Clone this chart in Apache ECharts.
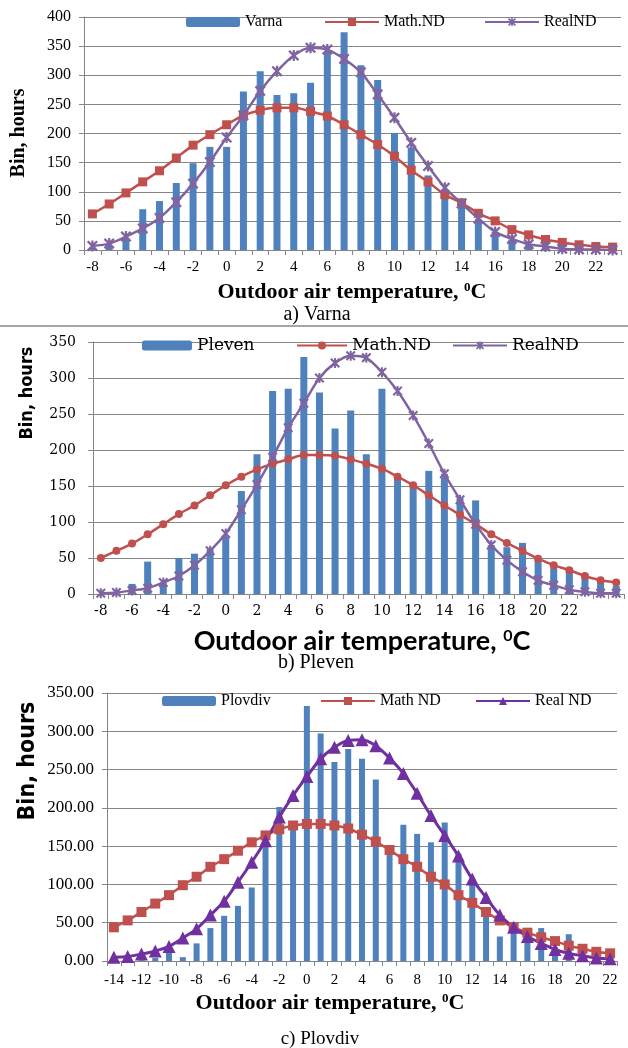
<!DOCTYPE html>
<html><head><meta charset="utf-8">
<script src="https://cdn.jsdelivr.net/npm/echarts@6/dist/echarts.min.js"></script>
<style>html,body{margin:0;padding:0;background:#fff}#c{width:628px;height:1048px}</style>
</head><body><div id="c"></div><script>
// ---------- Data ----------
var varnaTemps = [-8,-7,-6,-5,-4,-3,-2,-1,0,1,2,3,4,5,6,7,8,9,10,11,12,13,14,15,16,17,18,19,20,21,22,23];
var varnaBin   = [4,8,20,70,84,115,149,177,177,272,307,266,269,287,340,374,317,292,201,176,128,95,78,53,31,18,10,6,3,2,1,1];
var varnaMath  = [62,79,98,117,136,158,180,198,215,231,240,244,244,238,230,215,198,181,161,137,117,95,81,63,50,35,26,18,13,9,6,5];
var varnaReal  = [7,11,23,37,55,82,114,151,193,231,273,307,334,347,344,328,305,267,227,184,144,107,80,54,31,19,10,6,2,1,1,0];

var plevenTemps = [-8,-7,-6,-5,-4,-3,-2,-1,0,1,2,3,4,5,6,7,8,9,10,11,12,13,14,15,16,17,18,19,20,21,22,23,24,25];
var plevenBin   = [0,1,14,45,16,50,56,62,80,143,194,282,285,329,280,230,255,194,285,160,149,171,167,133,130,68,65,71,47,36,31,25,18,11];
var plevenMath  = [50,60,70,83,97,111,123,137,151,163,173,181,187,193,193,192,187,181,174,163,151,137,123,110,97,83,71,60,49,40,33,25,19,16];
var plevenReal  = [1,2,5,8,16,25,40,60,84,117,152,190,231,265,300,321,331,328,308,282,248,209,167,131,97,68,47,31,19,12,6,3,1,1];

var plovdivTemps = [-14,-13,-12,-11,-10,-9,-8,-7,-6,-5,-4,-3,-2,-1,0,1,2,3,4,5,6,7,8,9,10,11,12,13,14,15,16,17,18,19,20,21,22];
var plovdivBin   = [0,0,1,4,12,5,23,43,59,72,96,150,201,180,333,297,260,277,264,237,148,178,166,155,181,140,101,62,32,40,31,43,18,35,12,7,3];
var plovdivMath  = [44,53,64,75,86,99,110,123,133,144,155,164,172,177,179,179,177,173,165,156,145,133,123,110,100,86,76,64,53,44,37,31,26,20,16,12,10];
var plovdivReal  = [5,6,9,13,19,30,42,60,78,103,129,157,188,216,241,264,279,288,289,281,265,245,219,190,164,137,107,83,60,44,32,23,15,10,7,4,3];

var yTicksVarna = {min:0, max:400, interval:50};
var yTicksPleven = {min:0, max:350, interval:50};
var yTicksPlovdiv = {min:0, max:350, interval:50};

// ---------- Styles ----------
var BLUE='#4F81BD', RED='#C0504D', PURPLE='#8064A2', PURPLE2='#7030A0', GRID='#868686';
var SERIF='"Liberation Serif","Times New Roman",serif';
var DSERIF='"DejaVu Serif",serif';
var NARROW='"Liberation Sans Narrow","DejaVu Sans Condensed","DejaVu Sans",sans-serif';
var STAR='path://M1.5,0L5,3.5L8.5,0L10,1.5L6.5,5L10,8.5L8.5,10L5,6.5L1.5,10L0,8.5L3.5,5L0,1.5ZM4,0L6,0L6,10L4,10Z';

function xAx(gi, data, font, size, margin, fmt){
  return {type:'category', gridIndex:gi, data:data, boundaryGap:true,
    axisLine:{lineStyle:{color:GRID,width:1}},
    axisTick:{show:true, interval:0, length:5, lineStyle:{color:GRID}},
    axisLabel:{interval:1, color:'#000', fontFamily:font, fontSize:size, margin:margin, formatter:fmt},
    splitLine:{show:false}};
}
function yAx(gi, t, font, size, margin, fmt){
  return {type:'value', gridIndex:gi, min:t.min, max:t.max, interval:t.interval,
    axisLine:{show:true, lineStyle:{color:GRID,width:1}},
    axisTick:{show:true, length:5, lineStyle:{color:GRID}},
    axisLabel:{color:'#000', fontFamily:font, fontSize:size, margin:margin, formatter:fmt},
    splitLine:{show:true, lineStyle:{color:GRID,width:1}}};
}
function bar(name, gi, data, w){
  return {name:name, type:'bar', xAxisIndex:gi, yAxisIndex:gi, data:data, barWidth:w,
    itemStyle:{color:BLUE}, animation:false};
}
function line(name, gi, data, color, symbol, size, lw){
  return {name:name, type:'line', xAxisIndex:gi, yAxisIndex:gi, data:data, smooth:0.3,
    symbol:symbol, symbolSize:size, showSymbol:true, showAllSymbol:true,
    lineStyle:{color:color, width:lw}, itemStyle:{color:color}, animation:false, z:3};
}
function leg(name, left, top, w, font, size){
  return {data:[name], left:left, top:top, padding:0, itemWidth:w, itemHeight:10, itemGap:0,
    selectedMode:false, textStyle:{fontFamily:font, fontSize:size, color:'#000'}};
}
function rotText(x, y, text, font){
  return {type:'text', x:x, y:y, rotation:Math.PI/2,
    style:{text:text, font:font, fill:'#000', textAlign:'center', textVerticalAlign:'middle'}};
}
function xTitle(x, y, fam, size){
  return {type:'text', x:x, y:y,
    style:{text:'{a|Outdoor air temperature, }{b|0}{a|C}', textAlign:'center', textVerticalAlign:'middle',
      rich:{a:{fontFamily:fam, fontWeight:'bold', fontSize:size, fill:'#000'},
            b:{fontFamily:fam, fontWeight:'bold', fontSize:Math.round(size*0.6), fill:'#000', verticalAlign:'top'}}}};
}
function caption(x, y, text, size){
  return {type:'text', x:x, y:y, style:{text:text, font:size+'px '+SERIF, fill:'#000', textAlign:'center', textVerticalAlign:'middle'}};
}

var chart = echarts.init(document.getElementById('c'), null, {renderer:'canvas'});
chart.setOption({
  animation:false,
  backgroundColor:'#fff',
  grid:[
    {left:84, top:17, width:537, height:233},
    {left:93, top:342, width:531, height:252},
    {left:107, top:693, width:510, height:268}
  ],
  xAxis:[
    xAx(0, varnaTemps, SERIF, 15, 10),
    xAx(1, plevenTemps, DSERIF, 14, 10, function(v){ return Number(v) > 22 ? '' : v; }),
    xAx(2, plovdivTemps, SERIF, 15, 12)
  ],
  yAxis:[
    yAx(0, yTicksVarna, SERIF, 16, 13),
    yAx(1, yTicksPleven, DSERIF, 14, 17),
    yAx(2, yTicksPlovdiv, SERIF, 17, 13, function(v){ return v.toFixed(2); })
  ],
  legend:[
    leg('Varna', 186, 14, 54, SERIF, 16),
    leg('Math.ND', 324, 14, 54, SERIF, 16),
    leg('RealND', 484, 14, 54, SERIF, 16),
    leg('Pleven', 142, 337, 50, DSERIF, 17),
    leg('Math.ND ', 296, 337, 50, DSERIF, 17),
    leg('RealND ', 452, 337, 54, DSERIF, 17),
    leg('Plovdiv', 162, 693, 54, SERIF, 16),
    leg('Math ND', 320, 693, 54, SERIF, 16),
    leg('Real ND', 475, 693, 54, SERIF, 16)
  ],
  series:[
    bar('Varna', 0, varnaBin, 7),
    line('Math.ND', 0, varnaMath, RED, 'rect', 9, 2.5),
    line('RealND', 0, varnaReal, PURPLE, STAR, 11, 2.5),
    bar('Pleven', 1, plevenBin, 7),
    line('Math.ND ', 1, plevenMath, RED, 'circle', 8, 2.5),
    line('RealND ', 1, plevenReal, PURPLE, STAR, 10, 2.5),
    bar('Plovdiv', 2, plovdivBin, 6),
    line('Math ND', 2, plovdivMath, RED, 'rect', 10, 2.5),
    line('Real ND', 2, plovdivReal, PURPLE2, 'triangle', 13, 3)
  ],
  graphic:[
    rotText(19, 133, 'Bin, hours', 'bold 20px '+SERIF),
    xTitle(352, 292, SERIF, 22),
    caption(317, 315, 'a) Varna', 20),
    {type:'line', shape:{x1:0, y1:326, x2:628, y2:326}, style:{stroke:'#a6a6a6', lineWidth:2}},
    rotText(27, 393, 'Bin, hours', 'bold 18px '+NARROW),
    xTitle(362, 641, '"Lato","Open Sans",sans-serif', 27),
    caption(316, 663, 'b) Pleven', 20),
    rotText(28, 761, 'Bin, hours', 'bold 23px '+NARROW),
    xTitle(330, 1003, SERIF, 22),
    caption(320, 1039, 'c) Plovdiv', 19)
  ]
});
</script></body></html>
